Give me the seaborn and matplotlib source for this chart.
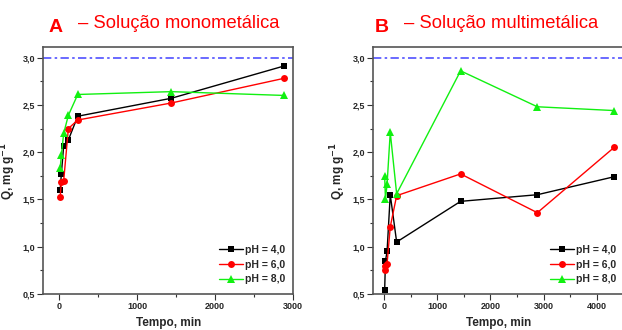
import numpy as np
import pandas as pd
import matplotlib
matplotlib.use("Agg")
import matplotlib.pyplot as plt
from matplotlib.ticker import FuncFormatter, MultipleLocator
import seaborn as sns

# ---------------- data ----------------
time_short = [15, 30, 60, 120, 240, 1440, 2880]
time_long = [15, 30, 60, 120, 240, 1440, 2880, 4320]
series_names = ["pH = 4,0", "pH = 6,0", "pH = 8,0"]

mono_ph4 = [1.60, 1.77, 2.07, 2.13, 2.38, 2.57, 2.91]
mono_ph6 = [1.53, 1.68, 1.70, 2.25, 2.34, 2.52, 2.78]
mono_ph8 = [1.83, 1.97, 2.20, 2.39, 2.61, 2.64, 2.60]

multi_ph4 = [0.54, 0.85, 0.95, 1.55, 1.05, 1.48, 1.55, 1.74]
multi_ph6 = [0.75, 0.80, 0.82, 1.21, 1.54, 1.77, 1.36, 2.05]
multi_ph8 = [1.75, 1.50, 1.66, 2.21, 1.56, 2.86, 2.48, 2.44]

q_max = 3.0
titles_letter = ["A", "B"]
titles_text = ["\u2013 Solu\u00e7\u00e3o monomet\u00e1lica", "\u2013 Solu\u00e7\u00e3o multimet\u00e1lica"]
x_ticks_a = [0, 1000, 2000, 3000]
x_ticks_b = [0, 1000, 2000, 3000, 4000]
y_ticks = [0.5, 1.0, 1.5, 2.0, 2.5, 3.0]


def to_long(t, ys):
    rows = []
    for name, vals in zip(series_names, ys):
        for tt, v in zip(t, vals):
            rows.append({"t": tt, "q": v, "serie": name})
    return pd.DataFrame(rows)


df_a = to_long(time_short, [mono_ph4, mono_ph6, mono_ph8])
df_b = to_long(time_long, [multi_ph4, multi_ph6, multi_ph8])

sns.set_theme(style="ticks")
plt.rcParams["font.family"] = ["Liberation Sans", "DejaVu Sans"]

palette = {"pH = 4,0": "#000000", "pH = 6,0": "#ff0000", "pH = 8,0": "#11f011"}
markers = {"pH = 4,0": "s", "pH = 6,0": "o", "pH = 8,0": "^"}
msizes = {"pH = 4,0": 4.5, "pH = 6,0": 5, "pH = 8,0": 6}

fig = plt.figure(figsize=(6.22, 3.30), dpi=100)
ax_a = fig.add_axes([0.0698, 0.109, 0.4013, 0.748])
ax_b = fig.add_axes([0.600, 0.109, 0.4027, 0.748])

fmt = FuncFormatter(lambda v, p: ("%.1f" % v).replace(".", ","))

for ax, df, xl, xt in [
    (ax_a, df_a, (-200, 3000), x_ticks_a),
    (ax_b, df_b, (-200, 4500), x_ticks_b),
]:
    sns.lineplot(data=df, x="t", y="q", hue="serie", style="serie",
                 palette=palette, markers=markers, dashes=False, sort=False,
                 legend=False, ax=ax, linewidth=1.0, markeredgewidth=0,
                 markersize=5)
    for line, name in zip(ax.lines, series_names):
        line.set_markersize(msizes[name])
    handles = list(ax.lines[:3])
    ax.axhline(q_max, color="#5050ff", linestyle=(0, (5, 2, 1.5, 2)), linewidth=1.2, zorder=0)
    ax.set_xlim(*xl)
    ax.set_ylim(0.5, 3.11)
    ax.set_xticks(xt)
    ax.set_yticks(y_ticks)
    ax.xaxis.set_minor_locator(MultipleLocator(500))
    ax.yaxis.set_minor_locator(MultipleLocator(0.25))
    ax.yaxis.set_major_formatter(fmt)
    ax.tick_params(axis="both", which="major", direction="out", length=4, width=0.8,
                   labelsize=6.5, pad=2, color="#333333")
    ax.tick_params(axis="both", which="minor", direction="out", length=2.5, width=0.8,
                   color="#333333")
    for lab in ax.get_xticklabels() + ax.get_yticklabels():
        lab.set_fontweight("bold")
    for sp in ax.spines.values():
        sp.set_color("#555555")
        sp.set_linewidth(1.2)
    ax.set_xlabel("Tempo, min", fontsize=8.5, fontweight="bold", labelpad=4)
    ax.set_ylabel("Q, mg g$^{\\mathbf{-1}}$", fontsize=8.5, fontweight="bold", labelpad=3)
    ax.legend(handles, series_names, loc="lower right", frameon=False,
              prop={"weight": "bold", "size": 7.5}, handlelength=2.3,
              handletextpad=0.2, labelspacing=0.45, borderaxespad=0.3,
              bbox_to_anchor=(1.0, 0.01))

# titles
fig.text(49 / 622, 1 - 32 / 330, titles_letter[0], color="#ff0000", fontsize=14,
         fontweight="bold", ha="left", va="baseline")
fig.text(78 / 622, 1 - 28 / 330, titles_text[0], color="#ff0000", fontsize=13.2,
         ha="left", va="baseline")
fig.text(375 / 622, 1 - 32 / 330, titles_letter[1], color="#ff0000", fontsize=14,
         fontweight="bold", ha="left", va="baseline")
fig.text(404 / 622, 1 - 28 / 330, titles_text[1], color="#ff0000", fontsize=13.2,
         ha="left", va="baseline")

fig.savefig("out.png", dpi=100)
